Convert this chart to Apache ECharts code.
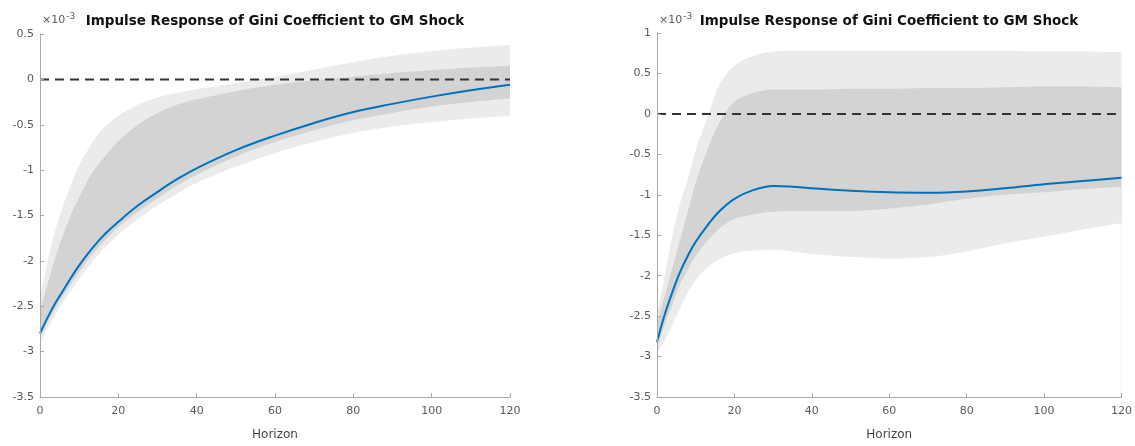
<!DOCTYPE html>
<html>
<head>
<meta charset="utf-8">
<script src="https://cdn.jsdelivr.net/npm/echarts@6/dist/echarts.min.js"></script>
<style>
  html, body { margin: 0; padding: 0; background: #fff; }
  #chart { width: 1135px; height: 446px; }
</style>
</head>
<body>
<div id="chart"></div>
<script>
// Impulse responses (units of 1e-3) with inner and outer credible bands
const horizons = [0, 2, 4, 6, 8, 10, 13, 16, 20, 25, 30, 35, 40, 50, 60, 70, 80, 90, 100, 110, 120];

// Left panel
const leftResponse  = [-2.80, -2.62, -2.46, -2.32, -2.18, -2.05, -1.88, -1.73, -1.57, -1.39, -1.24, -1.10, -0.98, -0.78, -0.62, -0.48, -0.36, -0.27, -0.19, -0.12, -0.06];
const leftInnerHigh = [-2.55, -2.25, -1.95, -1.70, -1.48, -1.30, -1.05, -0.88, -0.68, -0.50, -0.37, -0.28, -0.22, -0.13, -0.06, -0.01, 0.03, 0.07, 0.10, 0.13, 0.15];
const leftInnerLow  = [-2.85, -2.68, -2.52, -2.38, -2.25, -2.12, -1.95, -1.80, -1.63, -1.46, -1.31, -1.17, -1.05, -0.85, -0.69, -0.56, -0.45, -0.37, -0.30, -0.25, -0.21];
const leftOuterHigh = [-2.40, -2.00, -1.65, -1.38, -1.15, -0.95, -0.72, -0.55, -0.40, -0.28, -0.20, -0.15, -0.11, -0.04, 0.03, 0.11, 0.19, 0.26, 0.31, 0.35, 0.38];
const leftOuterLow  = [-2.90, -2.74, -2.59, -2.45, -2.32, -2.20, -2.03, -1.88, -1.71, -1.54, -1.39, -1.26, -1.14, -0.96, -0.81, -0.69, -0.59, -0.52, -0.47, -0.43, -0.40];

// Right panel
const rightResponse  = [-2.82, -2.48, -2.20, -1.95, -1.75, -1.58, -1.38, -1.21, -1.05, -0.94, -0.89, -0.90, -0.92, -0.95, -0.97, -0.975, -0.96, -0.92, -0.87, -0.83, -0.79];
const rightInnerHigh = [-2.60, -2.25, -1.90, -1.55, -1.20, -0.85, -0.45, -0.12, 0.15, 0.26, 0.30, 0.30, 0.30, 0.31, 0.31, 0.32, 0.32, 0.33, 0.34, 0.34, 0.33];
const rightInnerLow  = [-2.90, -2.60, -2.35, -2.10, -1.92, -1.75, -1.57, -1.42, -1.30, -1.24, -1.21, -1.20, -1.20, -1.20, -1.17, -1.12, -1.05, -1.00, -0.97, -0.93, -0.90];
const rightOuterHigh = [-2.50, -2.00, -1.50, -1.10, -0.80, -0.45, -0.05, 0.35, 0.60, 0.72, 0.77, 0.78, 0.78, 0.78, 0.78, 0.78, 0.78, 0.78, 0.77, 0.77, 0.76];
const rightOuterLow  = [-2.95, -2.80, -2.60, -2.40, -2.20, -2.05, -1.90, -1.80, -1.72, -1.69, -1.68, -1.70, -1.73, -1.77, -1.79, -1.77, -1.70, -1.60, -1.52, -1.43, -1.35];

const titleText = 'Impulse Response of Gini Coefficient to GM Shock';
const xName = 'Horizon';
const xRange = [0, 120];
const xStep = 20;
const leftYRange = [-3.5, 0.5];
const rightYRange = [-3.5, 1];
const yStep = 0.5;

const OUTER_FILL = '#ebebeb';
const INNER_FILL = '#d3d3d3';
const LINE_BLUE = '#0072BD';
const AXIS_GRAY = '#a8a8a8';
const LABEL_GRAY = '#5a5a5a';
const FONT = '"DejaVu Sans", Verdana, sans-serif';

function pairs(values) { return horizons.map((h, i) => [h, values[i]]); }

// Bands are painted as stacked layers, each filled down to the axis floor:
// outer upper (light), inner upper (dark), inner lower (light), outer lower (white).
function layer(idx, values, color, z) {
  return {
    type: 'line', xAxisIndex: idx, yAxisIndex: idx,
    data: pairs(values),
    smooth: 0.3, showSymbol: false, silent: true, z: z,
    lineStyle: { width: 0 },
    areaStyle: { color: color, opacity: 1, origin: 'start' }
  };
}

function bands(idx, outerLow, innerLow, innerHigh, outerHigh) {
  return [
    layer(idx, outerHigh, OUTER_FILL, 1),
    layer(idx, innerHigh, INNER_FILL, 1.1),
    layer(idx, innerLow, OUTER_FILL, 1.2),
    layer(idx, outerLow, '#ffffff', 1.3)
  ];
}

function zeroLine(idx) {
  return {
    type: 'line', xAxisIndex: idx, yAxisIndex: idx,
    data: [[xRange[0], 0], [xRange[1], 0]],
    showSymbol: false, silent: true, z: 3,
    lineStyle: { color: '#333333', width: 2, type: [9, 6] }
  };
}

function response(idx, values) {
  return {
    type: 'line', xAxisIndex: idx, yAxisIndex: idx,
    data: pairs(values),
    smooth: 0.4, showSymbol: false, silent: true, z: 4,
    lineStyle: { color: LINE_BLUE, width: 2 }
  };
}

function xAxis(idx) {
  return {
    type: 'value', gridIndex: idx, min: xRange[0], max: xRange[1], interval: xStep, z: 10,
    name: xName, nameLocation: 'middle', nameGap: 32,
    nameTextStyle: { color: '#444', fontSize: 12, fontFamily: FONT },
    axisLine: { show: true, onZero: false, lineStyle: { color: AXIS_GRAY, width: 1 } },
    axisTick: { show: true, inside: true, length: 4, lineStyle: { color: AXIS_GRAY } },
    axisLabel: { color: LABEL_GRAY, fontSize: 11, fontFamily: FONT, margin: 9 },
    splitLine: { show: false }
  };
}

function yAxis(idx, range) {
  return {
    type: 'value', gridIndex: idx, min: range[0], max: range[1], interval: yStep, z: 10,
    axisLine: { show: true, onZero: false, lineStyle: { color: AXIS_GRAY, width: 1 } },
    axisTick: { show: true, inside: true, length: 4, lineStyle: { color: AXIS_GRAY } },
    axisLabel: { color: LABEL_GRAY, fontSize: 11, fontFamily: FONT, margin: 6 },
    splitLine: { show: false }
  };
}

function headerText(cx, ex) {
  return [
    {
      type: 'text', x: cx, y: 21, z: 20,
      style: { text: titleText, font: 'bold 13.5px ' + FONT, fill: '#111', align: 'center', verticalAlign: 'middle' }
    },
    {
      type: 'text', x: ex, y: 28, z: 20,
      style: {
        text: '×10{sup|-3}', fill: LABEL_GRAY, font: '11px ' + FONT, verticalAlign: 'bottom',
        rich: { sup: { fontSize: 9, fontFamily: FONT, fill: LABEL_GRAY, verticalAlign: 'top', padding: [0, 0, 7, 1] } }
      }
    }
  ];
}

const chart = echarts.init(document.getElementById('chart'), null, { renderer: 'canvas' });
chart.setOption({
  backgroundColor: '#ffffff',
  animation: false,
  grid: [
    { left: 40, top: 34, width: 470, height: 369 },
    { left: 657, top: 33, width: 465, height: 370 }
  ],
  xAxis: [xAxis(0), xAxis(1)],
  yAxis: [yAxis(0, leftYRange), yAxis(1, rightYRange)],
  graphic: [].concat(headerText(275, 42), headerText(889, 659)),
  series: [].concat(
    bands(0, leftOuterLow, leftInnerLow, leftInnerHigh, leftOuterHigh),
    [zeroLine(0), response(0, leftResponse)],
    bands(1, rightOuterLow, rightInnerLow, rightInnerHigh, rightOuterHigh),
    [zeroLine(1), response(1, rightResponse)]
  )
});
</script>
</body>
</html>
